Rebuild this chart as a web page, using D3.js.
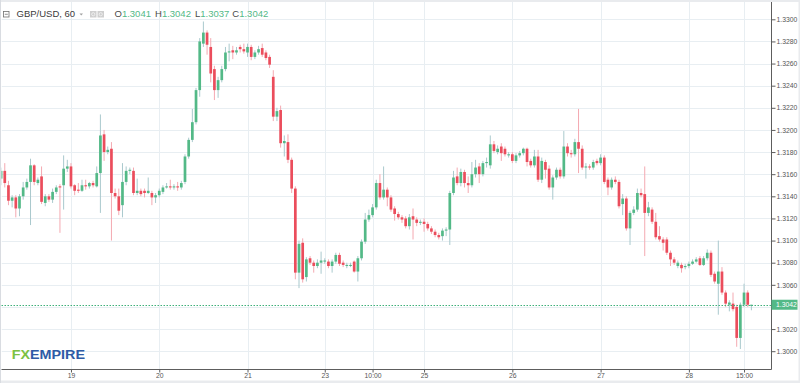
<!DOCTYPE html>
<html><head><meta charset="utf-8">
<script src="https://cdn.jsdelivr.net/npm/d3@7"></script>
<style>
html,body{margin:0;padding:0;background:#fff;}
svg{display:block;font-family:"Liberation Sans",Arial,sans-serif;}
</style></head><body>
<svg id="chart" width="800" height="383"></svg>
<script>
// ---- data (GBP/USD hourly candles) ----
const opens = [
1.3156,1.3163,1.3150,1.3136,1.3139,1.3129,1.3140,1.3148,1.3153,1.3168,
1.3152,1.3158,1.3134,1.3140,1.3137,1.3144,1.3149,1.3150,1.3165,1.3167,
1.3150,1.3146,1.3145,1.3150,1.3149,1.3152,1.3149,1.3161,1.3196,1.3180,
1.3183,1.3143,1.3140,1.3132,1.3153,1.3163,1.3163,1.3143,1.3145,1.3145,
1.3143,1.3143,1.3139,1.3141,1.3144,1.3148,1.3149,1.3148,1.3149,1.3148,
1.3153,1.3176,1.3191,1.3207,1.3236,1.3278,1.3288,1.3275,1.3255,1.3236,
1.3245,1.3255,1.3270,1.3272,1.3270,1.3275,1.3273,1.3270,1.3275,1.3266,
1.3270,1.3274,1.3270,1.3266,1.3248,1.3212,1.3218,1.3188,1.3189,1.3173,
1.3147,1.3071,1.3098,1.3067,1.3084,1.3080,1.3077,1.3080,1.3081,1.3081,
1.3077,1.3081,1.3087,1.3080,1.3077,1.3077,1.3081,1.3072,1.3084,1.3099,
1.3119,1.3123,1.3130,1.3152,1.3139,1.3146,1.3139,1.3129,1.3124,1.3121,
1.3120,1.3113,1.3122,1.3119,1.3116,1.3117,1.3115,1.3111,1.3108,1.3105,
1.3104,1.3109,1.3110,1.3143,1.3158,1.3152,1.3162,1.3152,1.3150,1.3160,
1.3167,1.3160,1.3170,1.3168,1.3187,1.3180,1.3185,1.3183,1.3177,1.3178,
1.3172,1.3177,1.3179,1.3183,1.3172,1.3168,1.3176,1.3155,1.3171,1.3165,
1.3148,1.3157,1.3164,1.3158,1.3185,1.3179,1.3178,1.3189,1.3183,1.3166,
1.3167,1.3166,1.3172,1.3170,1.3175,1.3155,1.3148,1.3155,1.3153,1.3133,
1.3138,1.3111,1.3125,1.3128,1.3143,1.3142,1.3125,1.3128,1.3117,1.3104,
1.3101,1.3101,1.3089,1.3083,1.3077,1.3078,1.3076,1.3077,1.3079,1.3081,
1.3084,1.3078,1.3084,1.3089,1.3070,1.3061,1.3072,1.3053,1.3042,1.3043,
1.3040,1.3012,1.3042,1.3053,1.3041];
const highs = [
1.3166,1.3170,1.3154,1.3141,1.3141,1.3142,1.3153,1.3156,1.3174,1.3169,
1.3157,1.3167,1.3142,1.3142,1.3147,1.3150,1.3151,1.3177,1.3173,1.3170,
1.3151,1.3152,1.3155,1.3155,1.3153,1.3154,1.3167,1.3214,1.3200,1.3185,
1.3189,1.3147,1.3147,1.3170,1.3167,1.3166,1.3166,1.3156,1.3147,1.3147,
1.3157,1.3145,1.3143,1.3147,1.3150,1.3152,1.3155,1.3151,1.3153,1.3154,
1.3178,1.3193,1.3219,1.3238,1.3283,1.3298,1.3290,1.3283,1.3258,1.3248,
1.3258,1.3275,1.3278,1.3276,1.3275,1.3277,1.3278,1.3278,1.3277,1.3272,
1.3276,1.3278,1.3272,1.3268,1.3254,1.3220,1.3222,1.3195,1.3196,1.3175,
1.3149,1.3100,1.3102,1.3085,1.3086,1.3082,1.3083,1.3090,1.3084,1.3083,
1.3083,1.3089,1.3089,1.3082,1.3080,1.3080,1.3082,1.3086,1.3101,1.3125,
1.3128,1.3133,1.3155,1.3160,1.3167,1.3148,1.3141,1.3131,1.3126,1.3123,
1.3122,1.3124,1.3129,1.3121,1.3119,1.3120,1.3117,1.3113,1.3110,1.3107,
1.3111,1.3112,1.3145,1.3163,1.3166,1.3165,1.3164,1.3158,1.3171,1.3173,
1.3170,1.3172,1.3175,1.3195,1.3190,1.3186,1.3188,1.3185,1.3180,1.3180,
1.3179,1.3181,1.3184,1.3184,1.3174,1.3182,1.3182,1.3175,1.3173,1.3168,
1.3159,1.3166,1.3166,1.3199,1.3188,1.3182,1.3192,1.3219,1.3186,1.3170,
1.3169,1.3173,1.3174,1.3178,1.3177,1.3157,1.3157,1.3158,1.3155,1.3142,
1.3140,1.3127,1.3131,1.3147,1.3147,1.3167,1.3135,1.3130,1.3125,1.3113,
1.3103,1.3103,1.3091,1.3085,1.3082,1.3080,1.3079,1.3081,1.3083,1.3085,
1.3086,1.3086,1.3092,1.3091,1.3072,1.3100,1.3076,1.3055,1.3046,1.3053,
1.3042,1.3044,1.3061,1.3055,1.3042];
const lows = [
1.3150,1.3148,1.3132,1.3130,1.3121,1.3122,1.3137,1.3146,1.3114,1.3150,
1.3150,1.3133,1.3131,1.3135,1.3134,1.3142,1.3107,1.3128,1.3162,1.3147,
1.3141,1.3143,1.3144,1.3146,1.3147,1.3148,1.3148,1.3125,1.3172,1.3178,
1.3100,1.3138,1.3123,1.3121,1.3150,1.3160,1.3141,1.3141,1.3140,1.3139,
1.3142,1.3132,1.3134,1.3139,1.3142,1.3147,1.3146,1.3146,1.3145,1.3146,
1.3151,1.3174,1.3189,1.3205,1.3230,1.3275,1.3268,1.3243,1.3227,1.3229,
1.3243,1.3253,1.3262,1.3264,1.3268,1.3270,1.3269,1.3266,1.3263,1.3264,
1.3268,1.3266,1.3263,1.3256,1.3208,1.3208,1.3184,1.3176,1.3170,1.3143,
1.3065,1.3057,1.3062,1.3063,1.3078,1.3071,1.3075,1.3070,1.3079,1.3075,
1.3071,1.3079,1.3077,1.3076,1.3075,1.3076,1.3071,1.3063,1.3082,1.3097,
1.3117,1.3121,1.3128,1.3137,1.3137,1.3131,1.3126,1.3118,1.3119,1.3116,
1.3111,1.3110,1.3101,1.3113,1.3114,1.3108,1.3109,1.3106,1.3103,1.3101,
1.3100,1.3104,1.3096,1.3141,1.3150,1.3149,1.3148,1.3143,1.3148,1.3157,
1.3152,1.3158,1.3166,1.3165,1.3179,1.3178,1.3172,1.3176,1.3175,1.3170,
1.3170,1.3175,1.3177,1.3167,1.3166,1.3166,1.3153,1.3152,1.3156,1.3146,
1.3137,1.3155,1.3156,1.3156,1.3176,1.3175,1.3176,1.3161,1.3164,1.3156,
1.3164,1.3164,1.3168,1.3168,1.3151,1.3141,1.3146,1.3151,1.3129,1.3123,
1.3109,1.3096,1.3123,1.3126,1.3139,1.3086,1.3122,1.3115,1.3101,1.3099,
1.3091,1.3087,1.3077,1.3078,1.3075,1.3071,1.3074,1.3075,1.3078,1.3080,
1.3077,1.3077,1.3082,1.3067,1.3061,1.3033,1.3051,1.3040,1.3036,1.3036,
1.3004,1.3002,1.3040,1.3040,1.3037];
const closes = [
1.3163,1.3152,1.3136,1.3139,1.3129,1.3140,1.3148,1.3153,1.3168,1.3153,
1.3155,1.3135,1.3140,1.3137,1.3144,1.3148,1.3148,1.3165,1.3167,1.3149,
1.3145,1.3145,1.3150,1.3149,1.3152,1.3150,1.3161,1.3195,1.3180,1.3182,
1.3143,1.3140,1.3127,1.3153,1.3163,1.3164,1.3143,1.3145,1.3142,1.3143,
1.3145,1.3139,1.3141,1.3145,1.3148,1.3149,1.3148,1.3149,1.3148,1.3152,
1.3176,1.3191,1.3207,1.3236,1.3280,1.3288,1.3277,1.3251,1.3236,1.3245,
1.3255,1.3270,1.3271,1.3270,1.3272,1.3273,1.3271,1.3275,1.3266,1.3270,
1.3273,1.3268,1.3265,1.3259,1.3212,1.3217,1.3188,1.3190,1.3173,1.3147,
1.3071,1.3097,1.3065,1.3083,1.3080,1.3077,1.3080,1.3082,1.3082,1.3077,
1.3081,1.3087,1.3079,1.3078,1.3078,1.3078,1.3072,1.3084,1.3099,1.3119,
1.3123,1.3130,1.3152,1.3139,1.3146,1.3139,1.3128,1.3124,1.3121,1.3119,
1.3113,1.3121,1.3119,1.3116,1.3117,1.3115,1.3111,1.3108,1.3105,1.3103,
1.3109,1.3110,1.3143,1.3157,1.3152,1.3162,1.3152,1.3150,1.3160,1.3166,
1.3160,1.3170,1.3171,1.3187,1.3181,1.3183,1.3179,1.3178,1.3178,1.3172,
1.3177,1.3179,1.3183,1.3171,1.3168,1.3176,1.3155,1.3172,1.3164,1.3148,
1.3157,1.3164,1.3158,1.3185,1.3179,1.3178,1.3189,1.3183,1.3166,1.3167,
1.3166,1.3171,1.3170,1.3175,1.3153,1.3148,1.3155,1.3153,1.3131,1.3138,
1.3111,1.3125,1.3128,1.3143,1.3141,1.3125,1.3130,1.3117,1.3103,1.3101,
1.3098,1.3089,1.3083,1.3080,1.3080,1.3075,1.3077,1.3079,1.3081,1.3083,
1.3078,1.3084,1.3089,1.3069,1.3063,1.3072,1.3053,1.3043,1.3044,1.3038,
1.3012,1.3042,1.3053,1.3042,1.3042];

const xTickIndex  = [19, 43, 67, 88, 101, 115, 139, 163, 187, 202];
const xTickLabels = ["19","20","21","23","10:00","25","26","27","28","15:00"];
const gridValues  = [1.3000,1.3020,1.3040,1.3060,1.3080,1.3100,1.3120,1.3140,1.3160,
                     1.3180,1.3200,1.3220,1.3240,1.3260,1.3280,1.3300];
// 1.3040 label is hidden behind the last-price tag
const yTickValues = [1.3000,1.3020,1.3060,1.3080,1.3100,1.3120,1.3140,1.3160,
                     1.3180,1.3200,1.3220,1.3240,1.3260,1.3280,1.3300];
const lastPrice = 1.3042;
const symbolTitle = "GBP/USD, 60";
const ohlcLetters = ["O","H","L","C"];
const ohlcValues  = ["1.3041","1.3042","1.3037","1.3042"];

// ---- layout ----
const svg = d3.select("#chart");
const plotLeft = 1.5, plotRight = 771.5, plotTop = 2, plotBottom = 369.5;
const UP = "#53b987", DOWN = "#eb4d5c", UPWICK = "#a9c9cd", DOWNWICK = "#f4a9b1";
const GRID = "#e8eef2", AXIS = "#5d5d5d", LABEL = "#555";

const x = d3.scaleLinear().domain([0, closes.length - 1]).range([1.1, 751.4]);
const y = d3.scaleLinear().domain([1.3000, 1.3300]).range([351.2, 19.3]);

svg.append("rect").attr("width", 800).attr("height", 383).attr("fill", "#fff");

svg.append("clipPath").attr("id", "plotclip").append("rect")
  .attr("x", plotLeft).attr("y", plotTop).attr("width", plotRight - plotLeft).attr("height", plotBottom - plotTop);

// grid
const grid = svg.append("g").attr("clip-path", "url(#plotclip)");
grid.selectAll("line.h").data(gridValues).join("line").attr("class", "h")
  .attr("x1", plotLeft).attr("x2", plotRight)
  .attr("y1", d => Math.round(y(d)) + 0.5).attr("y2", d => Math.round(y(d)) + 0.5)
  .attr("stroke", GRID).attr("stroke-width", 1);
grid.selectAll("line.v").data(xTickIndex).join("line").attr("class", "v")
  .attr("y1", 0).attr("y2", plotBottom)
  .attr("x1", d => Math.round(x(d)) + 0.5).attr("x2", d => Math.round(x(d)) + 0.5)
  .attr("stroke", GRID).attr("stroke-width", 1);

// candles
const candles = d3.range(closes.length).map(i => ({i, o: opens[i], h: highs[i], l: lows[i], c: closes[i]}));
const cg = svg.append("g").attr("clip-path", "url(#plotclip)");
const bodyW = 2.7;
cg.selectAll("line.wick").data(candles).join("line").attr("class", "wick")
  .attr("x1", d => x(d.i)).attr("x2", d => x(d.i))
  .attr("y1", d => y(d.h)).attr("y2", d => y(d.l))
  .attr("stroke", d => d.c >= d.o ? UPWICK : DOWNWICK).attr("stroke-width", 1);
cg.selectAll("rect.body").data(candles).join("rect").attr("class", "body")
  .attr("x", d => x(d.i) - bodyW / 2).attr("width", bodyW)
  .attr("y", d => y(Math.max(d.o, d.c)))
  .attr("height", d => Math.max(1, Math.abs(y(d.o) - y(d.c))))
  .attr("fill", d => d.c >= d.o ? UP : DOWN);

// last price line
svg.append("line").attr("x1", plotLeft).attr("x2", plotRight)
  .attr("y1", Math.round(y(lastPrice)) + 0.5).attr("y2", Math.round(y(lastPrice)) + 0.5)
  .attr("stroke", "#3fb07a").attr("stroke-width", 1).attr("stroke-dasharray", "1.5,1.5");

// axes lines
svg.append("line").attr("x1", plotRight).attr("x2", plotRight).attr("y1", 0).attr("y2", plotBottom)
  .attr("stroke", AXIS).attr("stroke-width", 1);
svg.append("line").attr("x1", plotLeft).attr("x2", plotRight).attr("y1", plotBottom).attr("y2", plotBottom)
  .attr("stroke", AXIS).attr("stroke-width", 1);

// y axis
const yAxis = svg.append("g").attr("transform", `translate(${plotRight},0)`)
  .call(d3.axisRight(y).tickValues(yTickValues).tickSize(4).tickPadding(1).tickFormat(d3.format(".4f")));
yAxis.select(".domain").remove();
yAxis.selectAll(".tick line").attr("stroke", AXIS);
yAxis.selectAll(".tick text").attr("fill", LABEL).style("font-size", "6.8px")
  .style("font-family", '"Liberation Sans",Arial,sans-serif');

// x axis
const xAxis = svg.append("g").attr("transform", `translate(0,${plotBottom})`)
  .call(d3.axisBottom(x).tickValues(xTickIndex).tickSize(3).tickPadding(1)
    .tickFormat((d, i) => xTickLabels[i]));
xAxis.select(".domain").remove();
xAxis.selectAll(".tick line").attr("stroke", AXIS);
xAxis.selectAll(".tick text").attr("fill", LABEL).style("font-size", "6.8px")
  .style("font-family", '"Liberation Sans",Arial,sans-serif');

// last price label
const ly = y(lastPrice);
svg.append("rect").attr("x", plotRight).attr("y", ly - 5).attr("width", 26).attr("height", 10).attr("fill", UP);
svg.append("text").attr("x", plotRight + 4.5).attr("y", ly).attr("dy", "0.35em")
  .attr("fill", "#fff").style("font-size", "6.8px").text(d3.format(".4f")(lastPrice));

// header legend
const hdr = svg.append("g");
hdr.append("rect").attr("x", 3.5).attr("y", 11.5).attr("width", 5.5).attr("height", 5.5)
  .attr("fill", "none").attr("stroke", "#707070").attr("stroke-width", 0.8);
hdr.append("line").attr("x1", 4.8).attr("x2", 7.8).attr("y1", 14.25).attr("y2", 14.25)
  .attr("stroke", "#707070").attr("stroke-width", 0.8);
hdr.append("text").attr("x", 16.5).attr("y", 17.4).attr("fill", "#3a3a3a")
  .style("font-size", "9.5px").text(symbolTitle);
hdr.append("path").attr("d", "M79.5,13.5 L83,13.5 L81.25,15.5 Z").attr("fill", "#a0a0a0");
[90, 97.5].forEach(px => {
  hdr.append("rect").attr("x", px).attr("y", 11).attr("width", 6.5).attr("height", 6.5).attr("fill", "#cfcfcf");
  hdr.append("circle").attr("cx", px + 3.25).attr("cy", 14.25).attr("r", 1.6)
    .attr("fill", "none").attr("stroke", "#f4f4f4").attr("stroke-width", 0.8);
});
const ohlcX = [114.5, 155, 195, 232.3];
ohlcLetters.forEach((l, i) => {
  const t = hdr.append("text").attr("x", ohlcX[i]).attr("y", 17.4).style("font-size", "9.5px");
  t.append("tspan").attr("fill", "#4a4a4a").text(l);
  t.append("tspan").attr("fill", UP).text(ohlcValues[i]);
});

// logo
const logo = svg.append("g");
logo.append("text").attr("x", 11.7).attr("y", 359.4).attr("fill", "#7cc142")
  .style("font-size", "12px").style("font-weight", "bold")
  .attr("textLength", 18.3).attr("lengthAdjust", "spacingAndGlyphs").text("FX");
logo.append("text").attr("x", 30).attr("y", 359.4).attr("fill", "#2e5ba6")
  .style("font-size", "12px").style("font-weight", "bold")
  .attr("textLength", 55).attr("lengthAdjust", "spacingAndGlyphs").text("EMPIRE");

// outer frame
svg.append("rect").attr("x", 0).attr("y", 0).attr("width", 800).attr("height", 2).attr("fill", "#e9ebee");
svg.append("rect").attr("x", 0).attr("y", 380.5).attr("width", 800).attr("height", 2.5).attr("fill", "#e9ebee");
svg.append("rect").attr("x", 798.5).attr("y", 0).attr("width", 1.5).attr("height", 383).attr("fill", "#e9ebee");
svg.append("rect").attr("x", 0).attr("y", 0).attr("width", 1).attr("height", 383).attr("fill", "#d9dce1");
</script>
</body></html>
